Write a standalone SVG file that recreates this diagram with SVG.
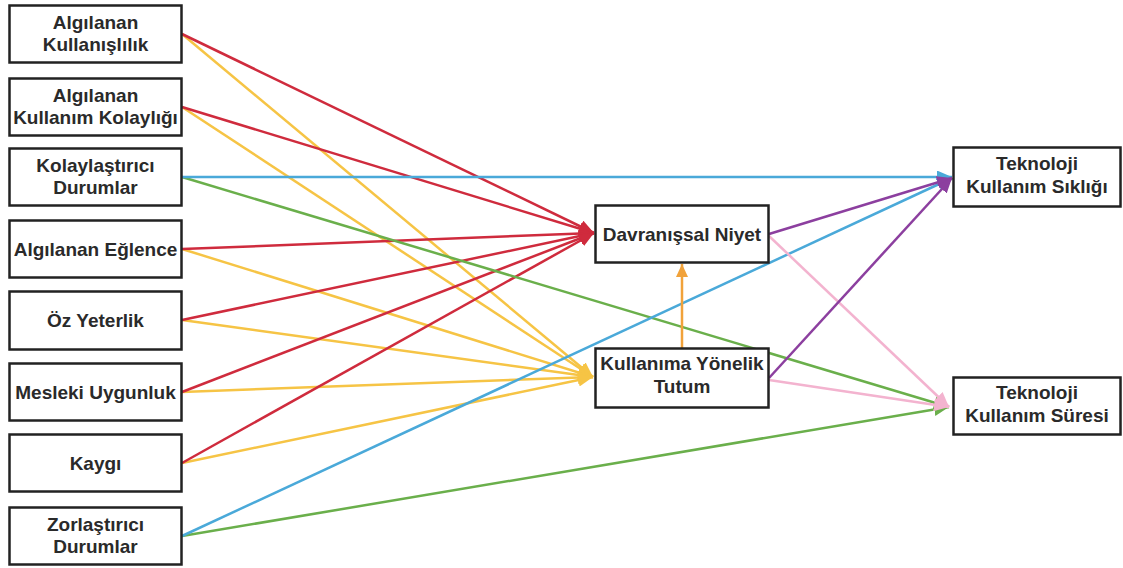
<svg xmlns="http://www.w3.org/2000/svg" width="1123" height="568" viewBox="0 0 1123 568">
<defs>
<style>
.box{fill:#fff;stroke:#222;stroke-width:2.5}
.t{font-family:"Liberation Sans",Arial,sans-serif;font-weight:bold;font-size:19px;fill:#2a2a2a;text-anchor:middle}
.e{fill:none;stroke-width:2.5}
.red{stroke:#cf2b3d}
.yel{stroke:#f6c445}
.blu{stroke:#4aa9d9}
.grn{stroke:#6aaf4b}
.pur{stroke:#8c3f9f}
.pnk{stroke:#f3b3cf}
.org{stroke:#f1a23a}
</style>
<marker id="mr" markerUnits="userSpaceOnUse" markerWidth="15" markerHeight="13" refX="15" refY="6.5" orient="auto"><path d="M0,0L15,6.5L0,13z" fill="#cf2b3d"/></marker>
<marker id="my" markerUnits="userSpaceOnUse" markerWidth="15" markerHeight="13" refX="15" refY="6.5" orient="auto"><path d="M0,0L15,6.5L0,13z" fill="#f6c445"/></marker>
<marker id="mb" markerUnits="userSpaceOnUse" markerWidth="15" markerHeight="13" refX="15" refY="6.5" orient="auto"><path d="M0,0L15,6.5L0,13z" fill="#4aa9d9"/></marker>
<marker id="mg" markerUnits="userSpaceOnUse" markerWidth="15" markerHeight="13" refX="15" refY="6.5" orient="auto"><path d="M0,0L15,6.5L0,13z" fill="#6aaf4b"/></marker>
<marker id="mp" markerUnits="userSpaceOnUse" markerWidth="15" markerHeight="13" refX="15" refY="6.5" orient="auto"><path d="M0,0L15,6.5L0,13z" fill="#8c3f9f"/></marker>
<marker id="mk" markerUnits="userSpaceOnUse" markerWidth="15" markerHeight="13" refX="15" refY="6.5" orient="auto"><path d="M0,0L15,6.5L0,13z" fill="#f3b3cf"/></marker>
<marker id="mo" markerUnits="userSpaceOnUse" markerWidth="13" markerHeight="12" refX="13" refY="6" orient="auto"><path d="M0,0L13,6L0,12z" fill="#f1a23a"/></marker>
</defs>
<rect width="1123" height="568" fill="#fff"/>
<g id="connectors">
<line class="e yel" x1="182" y1="34" x2="593" y2="377" marker-end="url(#my)"/>
<line class="e yel" x1="182" y1="107" x2="593" y2="377" marker-end="url(#my)"/>
<line class="e yel" x1="182" y1="249" x2="593" y2="377" marker-end="url(#my)"/>
<line class="e yel" x1="182" y1="320" x2="593" y2="377" marker-end="url(#my)"/>
<line class="e yel" x1="182" y1="392" x2="593" y2="377" marker-end="url(#my)"/>
<line class="e yel" x1="182" y1="463" x2="593" y2="377" marker-end="url(#my)"/>
<line class="e red" x1="182" y1="34" x2="594" y2="233" marker-end="url(#mr)"/>
<line class="e red" x1="182" y1="107" x2="594" y2="233" marker-end="url(#mr)"/>
<line class="e red" x1="182" y1="249" x2="594" y2="233" marker-end="url(#mr)"/>
<line class="e red" x1="182" y1="320" x2="594" y2="233" marker-end="url(#mr)"/>
<line class="e red" x1="182" y1="392" x2="594" y2="233" marker-end="url(#mr)"/>
<line class="e red" x1="182" y1="463" x2="594" y2="233" marker-end="url(#mr)"/>
<line class="e grn" x1="182" y1="177" x2="949" y2="407" marker-end="url(#mg)"/>
<line class="e grn" x1="182" y1="536" x2="949" y2="407" marker-end="url(#mg)"/>
<line class="e blu" x1="182" y1="177" x2="952" y2="177" marker-end="url(#mb)"/>
<line class="e blu" x1="182" y1="536" x2="952" y2="178" marker-end="url(#mb)"/>
<line class="e pnk" x1="769" y1="236" x2="949" y2="407" marker-end="url(#mk)"/>
<line class="e pnk" x1="769" y1="380" x2="949" y2="407" marker-end="url(#mk)"/>
<line class="e pur" x1="769" y1="234" x2="952" y2="178" marker-end="url(#mp)"/>
<line class="e pur" x1="769" y1="378" x2="952" y2="178" marker-end="url(#mp)"/>
<line class="e org" x1="682" y1="348" x2="682" y2="264" marker-end="url(#mo)"/>
</g>
<g id="n1"><rect class="box" x="9.5" y="5.5" width="172" height="57"/><text class="t" x="95.5" y="28.5">Algılanan</text><text class="t" x="95.5" y="50.5">Kullanışlılık</text></g>
<g id="n2"><rect class="box" x="9.5" y="78.5" width="172" height="57"/><text class="t" x="95.5" y="101.5">Algılanan</text><text class="t" x="95.5" y="123.5">Kullanım Kolaylığı</text></g>
<g id="n3"><rect class="box" x="9.5" y="148.5" width="172" height="57"/><text class="t" x="95.5" y="171.5">Kolaylaştırıcı</text><text class="t" x="95.5" y="193.5">Durumlar</text></g>
<g id="n4"><rect class="box" x="9.5" y="220.5" width="172" height="57"/><text class="t" x="95.5" y="255.5">Algılanan Eğlence</text></g>
<g id="n5"><rect class="box" x="9.5" y="291.5" width="172" height="58"/><text class="t" x="95.5" y="326.5">Öz Yeterlik</text></g>
<g id="n6"><rect class="box" x="9.5" y="363.5" width="172" height="57"/><text class="t" x="95.5" y="398.5">Mesleki Uygunluk</text></g>
<g id="n7"><rect class="box" x="9.5" y="434.5" width="172" height="57"/><text class="t" x="95.5" y="469.5">Kaygı</text></g>
<g id="n8"><rect class="box" x="9.5" y="507.5" width="172" height="57"/><text class="t" x="95.5" y="530.5">Zorlaştırıcı</text><text class="t" x="95.5" y="552.5">Durumlar</text></g>
<g id="n9"><rect class="box" x="595.5" y="205.5" width="173" height="57"/><text class="t" x="682" y="240.5">Davranışsal Niyet</text></g>
<g id="n10"><rect class="box" x="595.5" y="348.5" width="173" height="59"/><text class="t" x="682" y="370">Kullanıma Yönelik</text><text class="t" x="682" y="393">Tutum</text></g>
<g id="n11"><rect class="box" x="953.5" y="147.5" width="167" height="59"/><text class="t" x="1037" y="170">Teknoloji</text><text class="t" x="1037" y="193">Kullanım Sıklığı</text></g>
<g id="n12"><rect class="box" x="953.5" y="377.5" width="167" height="57"/><text class="t" x="1037" y="399">Teknoloji</text><text class="t" x="1037" y="422">Kullanım Süresi</text></g>
</svg>
